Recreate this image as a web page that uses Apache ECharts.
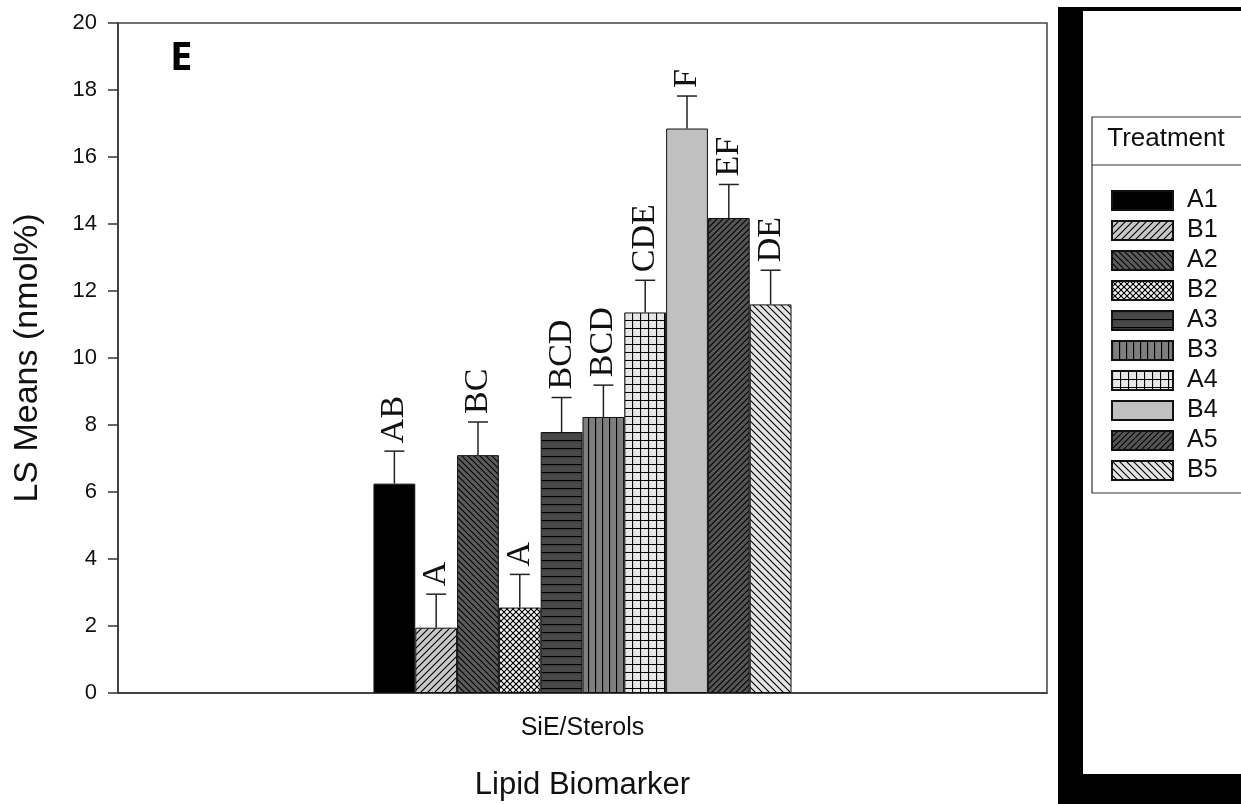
<!DOCTYPE html>
<html>
<head>
<meta charset="utf-8">
<script src="https://cdn.jsdelivr.net/npm/echarts@6/dist/echarts.min.js"></script>
<style>
html,body{margin:0;padding:0;background:#fff;}
#chart{width:1241px;height:804px;}
</style>
</head>
<body>
<div id="chart"></div>
<script>
const categories = ['SiE/Sterols'];
const treatments = ['A1','B1','A2','B2','A3','B3','A4','B4','A5','B5'];
const means = [6.25, 1.95, 7.10, 2.55, 7.79, 8.24, 11.36, 16.85, 14.18, 11.60];
const errors = [0.97, 1.00, 0.99, 0.99, 1.03, 0.95, 0.96, 0.97, 1.00, 1.02];
const letters = ['AB','A','BC','A','BCD','BCD','CDE','F','EF','DE'];
const yMin = 0, yMax = 20, yInterval = 2;

function tile(size, bg, draw) {
  const c = document.createElement('canvas');
  c.width = size; c.height = size;
  const ctx = c.getContext('2d');
  ctx.fillStyle = bg; ctx.fillRect(0, 0, size, size);
  ctx.strokeStyle = '#000'; ctx.lineWidth = 1.1;
  draw(ctx, size);
  return { image: c, repeat: 'repeat' };
}
function slash(ctx, s) { // "/"
  ctx.beginPath();
  ctx.moveTo(-1, s + 1); ctx.lineTo(s + 1, -1);
  ctx.moveTo(-1, 1); ctx.lineTo(1, -1);
  ctx.moveTo(s - 1, s + 1); ctx.lineTo(s + 1, s - 1);
  ctx.stroke();
}
function backslash(ctx, s) { // "\"
  ctx.beginPath();
  ctx.moveTo(-1, -1); ctx.lineTo(s + 1, s + 1);
  ctx.moveTo(s - 1, -1); ctx.lineTo(s + 1, 1);
  ctx.moveTo(-1, s - 1); ctx.lineTo(1, s + 1);
  ctx.stroke();
}
const fills = {
  A1: '#000000',
  B1: tile(7, '#c8c8c8', slash),
  A2: tile(6, '#5c5c5c', backslash),
  B2: tile(6, '#f2f2f2', (c, s) => { slash(c, s); backslash(c, s); }),
  A3: tile(8, '#484848', (c, s) => { c.beginPath(); c.moveTo(0, 0.5); c.lineTo(s, 0.5); c.lineWidth = 1.3; c.stroke(); }),
  B3: tile(7, '#7e7e7e', (c, s) => { c.beginPath(); c.moveTo(0.5, 0); c.lineTo(0.5, s); c.lineWidth = 1.3; c.stroke(); }),
  A4: tile(8, '#e6e6e6', (c, s) => { c.beginPath(); c.moveTo(0.5, 0); c.lineTo(0.5, s); c.moveTo(0, 0.5); c.lineTo(s, 0.5); c.lineWidth = 1.2; c.stroke(); }),
  B4: '#c0c0c0',
  A5: tile(6, '#555555', slash),
  B5: tile(7, '#e4e4e4', backslash)
};

const gapPct = 55;
const series = treatments.map((t, i) => ({
  name: t,
  type: 'bar',
  barGap: '0%',
  barCategoryGap: gapPct + '%',
  data: [means[i]],
  itemStyle: { color: fills[t], borderColor: '#111', borderWidth: 1 },
  emphasis: { disabled: true },
  z: 2
}));

series.push({
  name: 'errors',
  type: 'custom',
  z: 3,
  data: treatments.map((t, i) => [0, means[i], errors[i], i]),
  encode: { x: 0, y: 1 },
  renderItem: function (params, api) {
    const idx = api.value(3);
    const val = api.value(1);
    const err = api.value(2);
    const band = api.size([1, 0])[0];
    const bw = band * (1 - gapPct / 100) / treatments.length;
    const base = api.coord([0, val]);
    const top = api.coord([0, val + err]);
    const cx = base[0] + (idx - (treatments.length - 1) / 2) * bw;
    const capHalf = 10;
    return {
      type: 'group',
      children: [
        { type: 'line', shape: { x1: cx, y1: base[1], x2: cx, y2: top[1] }, style: { stroke: '#222', lineWidth: 1.5 } },
        { type: 'line', shape: { x1: cx - capHalf, y1: top[1], x2: cx + capHalf, y2: top[1] }, style: { stroke: '#222', lineWidth: 1.5 } },
        { type: 'text', x: cx, y: top[1] - 8, rotation: Math.PI / 2,
          style: { text: letters[params.dataIndex], fontFamily: 'Liberation Serif', fontSize: 34, fill: '#111', align: 'left', verticalAlign: 'middle' } }
      ]
    };
  }
});

const chart = echarts.init(document.getElementById('chart'), null, { renderer: 'canvas' });
chart.setOption({
  animation: false,
  backgroundColor: '#ffffff',
  grid: { left: 118, right: 194, top: 23, bottom: 111, show: true, borderColor: '#444', borderWidth: 1.5, backgroundColor: 'transparent', containLabel: false, outerBoundsMode: 'none' },
  xAxis: {
    type: 'category',
    data: categories,
    name: 'Lipid Biomarker',
    nameLocation: 'middle',
    nameGap: 77,
    nameTextStyle: { fontFamily: 'Liberation Sans', fontSize: 31, color: '#111' },
    axisLine: { lineStyle: { color: '#333', width: 1.5 } },
    axisTick: { alignWithLabel: true, length: 10, lineStyle: { color: '#333', width: 1.5 } },
    axisLabel: { fontFamily: 'Liberation Sans', fontSize: 25, color: '#111', margin: 23 }
  },
  yAxis: {
    type: 'value',
    min: yMin, max: yMax, interval: yInterval,
    name: 'LS Means (nmol%)',
    nameLocation: 'middle',
    nameGap: 73,
    nameTextStyle: { fontFamily: 'Liberation Sans', fontSize: 34, color: '#111' },
    axisLine: { show: true, lineStyle: { color: '#333', width: 1.5 } },
    axisTick: { show: true, length: 10, lineStyle: { color: '#333', width: 1.5 } },
    axisLabel: { fontFamily: 'Liberation Sans', fontSize: 22, color: '#111', margin: 21 },
    splitLine: { show: false }
  },
  legend: {
    data: treatments,
    orient: 'vertical',
    left: 1111, top: 188,
    padding: 0,
    icon: 'rect',
    itemWidth: 61, itemHeight: 19, itemGap: 5,
    selectedMode: false,
    textStyle: { fontFamily: 'Liberation Sans', fontSize: 25, color: '#111', padding: [0, 0, 0, 9] }
  },
  graphic: [
    { type: 'rect', z: -10, shape: { x: 1058, y: 7, width: 190, height: 800 }, style: { fill: '#000' } },
    { type: 'rect', z: -9, shape: { x: 1083, y: 11, width: 170, height: 763 }, style: { fill: '#fff' } },
    { type: 'rect', z: -8, shape: { x: 1092, y: 117, width: 160, height: 376 }, style: { fill: '#fff', stroke: '#333', lineWidth: 1.2 } },
    { type: 'line', z: -7, shape: { x1: 1092, y1: 165, x2: 1245, y2: 165 }, style: { stroke: '#333', lineWidth: 1.2 } },
    { type: 'text', z: 5, x: 1166, y: 139, style: { text: 'Treatment', fontFamily: 'Liberation Sans', fontSize: 26, fill: '#111', align: 'center', verticalAlign: 'middle' } },
    { type: 'text', z: 5, x: 170, y: 59, style: { text: 'E', fontFamily: 'Open Sans', fontWeight: 'bold', fontSize: 40, fill: '#000', align: 'left', verticalAlign: 'middle' } }
  ],
  series: series
});
</script>
</body>
</html>
